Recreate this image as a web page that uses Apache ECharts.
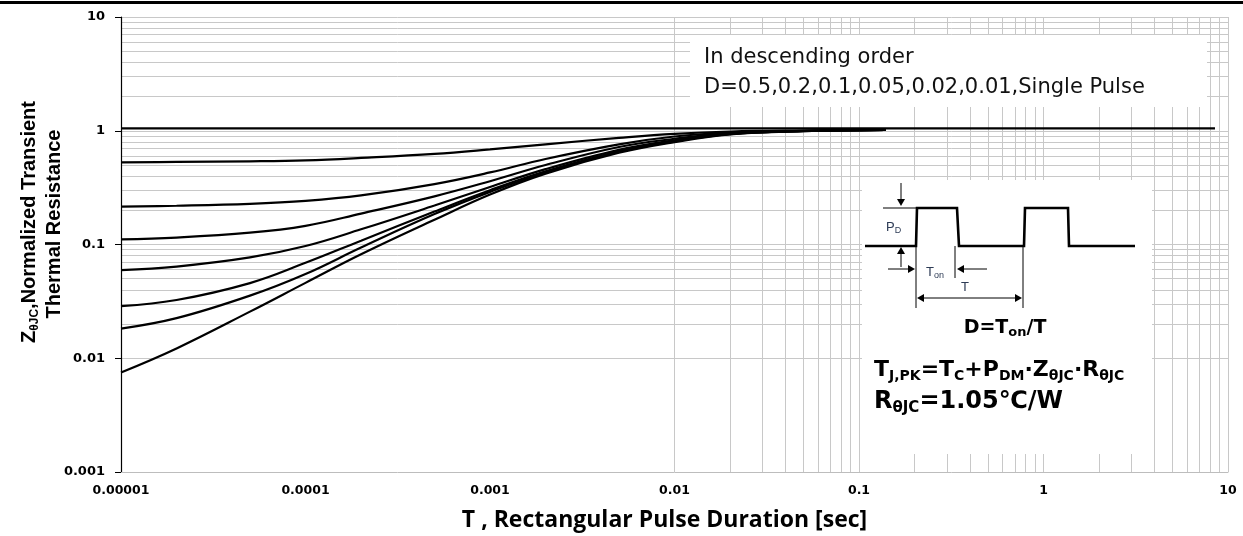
<!DOCTYPE html>
<html><head><meta charset="utf-8">
<script src="https://cdn.jsdelivr.net/npm/echarts@6/dist/echarts.min.js"></script>
<style>html,body{margin:0;padding:0;background:#fff;overflow:hidden}#c{width:1243px;height:536px}</style>
</head><body><div id="c"></div>
<script>
// ---- data ----
const durations = [1e-5, 2e-5, 5e-5, 1e-4, 2e-4, 5e-4, 1e-3, 2e-3, 5e-3, 1e-2, 2e-2, 5e-2, 0.14];
const zD050 = [0.528, 0.532, 0.539, 0.550, 0.577, 0.625, 0.685, 0.760, 0.865, 0.940, 0.985, 1.005, 1.015];
const zD020 = [0.215, 0.219, 0.228, 0.242, 0.270, 0.340, 0.430, 0.565, 0.760, 0.890, 0.965, 1.000, 1.015];
const zD010 = [0.111, 0.115, 0.127, 0.146, 0.187, 0.265, 0.360, 0.500, 0.720, 0.850, 0.955, 1.000, 1.015];
const zD005 = [0.0596, 0.064, 0.077, 0.097, 0.136, 0.220, 0.320, 0.460, 0.680, 0.825, 0.943, 0.995, 1.015];
const zD002 = [0.0287, 0.0325, 0.0458, 0.069, 0.108, 0.195, 0.300, 0.440, 0.660, 0.815, 0.938, 0.995, 1.015];
const zD001 = [0.0182, 0.0225, 0.0355, 0.055, 0.094, 0.185, 0.290, 0.430, 0.650, 0.805, 0.932, 0.993, 1.015];
const zSingle = [0.0075, 0.0122, 0.0257, 0.046, 0.082, 0.165, 0.275, 0.420, 0.640, 0.795, 0.928, 0.990, 1.015];
const flatT = [1e-5, 8.5];
const flatZ = [1.05, 1.05];
const xTickLabels = ['0.00001', '0.0001', '0.001', '0.01', '0.1', '1', '10'];
const yTickLabels = ['0.001', '0.01', '0.1', '1', '10'];
const xDecades = [-5, -4, -3, -2, -1, 0, 1];
const yDecades = [-3, -2, -1, 0, 1];
const gridMultipliers = [1, 2, 3, 4, 5, 6, 7, 8, 9];

// ---- build ----
function gridValues(decades) {
  const out = [];
  decades.forEach((d, i) => {
    if (i === decades.length - 1) { out.push(Math.pow(10, d)); return; }
    gridMultipliers.forEach(m => out.push(m * Math.pow(10, d)));
  });
  return out;
}
const gridLines = gridValues(xDecades).map(v => ({ xAxis: v }))
  .concat(gridValues(yDecades).map(v => ({ yAxis: v })));

function pairs(xs, ys) { return xs.map((x, i) => [x, ys[i]]); }
const curveSets = [zD050, zD020, zD010, zD005, zD002, zD001, zSingle];
const curveNames = ['D=0.5', 'D=0.2', 'D=0.1', 'D=0.05', 'D=0.02', 'D=0.01', 'Single Pulse'];

const series = curveSets.map((ys, i) => ({
  name: curveNames[i], type: 'line', data: pairs(durations, ys),
  showSymbol: false, smooth: 0.4, z: 3,
  lineStyle: { color: '#000', width: 2.2 }, silent: true, animation: false
}));
series.push({
  name: 'flat', type: 'line', data: pairs(flatT, flatZ), showSymbol: false, z: 3,
  lineStyle: { color: '#000', width: 2.3 }, silent: true, animation: false,
  markLine: {
    z: -1, silent: true, symbol: 'none', animation: false, label: { show: false },
    lineStyle: { color: '#c8c8c8', width: 1, type: 'solid' }, emphasis: { disabled: true },
    data: gridLines
  }
});

const tickFont = { fontFamily: 'DejaVu Sans', fontWeight: 'bold', color: '#000' };

// rich styles for main text + subscript
function subRich(family, weight, main, sub, color) {
  const L = Math.round(2 * (0.27 * main + sub / 2));
  return {
    m: { fontFamily: family, fontWeight: weight, fontSize: main, lineHeight: L, verticalAlign: 'middle', fill: color },
    s: { fontFamily: family, fontWeight: weight, fontSize: sub, lineHeight: sub, verticalAlign: 'bottom', fill: color }
  };
}

function arrowHead(x, y, dir) {
  const s = 4, l = 7;
  let pts;
  if (dir === 'down') pts = [[x, y], [x - s, y - l], [x + s, y - l]];
  if (dir === 'up') pts = [[x, y], [x - s, y + l], [x + s, y + l]];
  if (dir === 'right') pts = [[x, y], [x - l, y - s], [x - l, y + s]];
  if (dir === 'left') pts = [[x, y], [x + l, y - s], [x + l, y + s]];
  return { type: 'polygon', shape: { points: pts }, style: { fill: '#000' } };
}
function seg(x1, y1, x2, y2, w) {
  return { type: 'line', shape: { x1, y1, x2, y2 }, style: { stroke: '#000', lineWidth: w || 1 } };
}
const labelColor = '#2d3b55';

const diagram = {
  type: 'group', x: 862, y: 180, z: 5,
  children: [
    { type: 'rect', shape: { x: 0, y: 0, width: 290, height: 274 }, style: { fill: '#fff' } },
    { type: 'polyline', shape: { points: [[3, 66], [54, 66], [55, 28], [95, 28], [97, 66], [162, 66], [163, 28], [206, 28], [207, 66], [273, 66]] },
      style: { stroke: '#000', lineWidth: 2.6, fill: null } },
    seg(21, 28, 54, 28, 1.2),
    seg(39, 3, 39, 22, 1), arrowHead(39, 26, 'down'),
    seg(39, 87, 39, 72, 1), arrowHead(39, 67, 'up'),
    { type: 'text', x: 24, y: 47, style: { text: '{m|P}{s|D}', verticalAlign: 'middle',
      rich: subRich('Liberation Sans', 'normal', 13, 9, labelColor) } },
    seg(54, 66, 54, 128, 1),
    seg(26, 89, 48, 89, 1), arrowHead(53, 89, 'right'),
    { type: 'text', x: 64, y: 92, style: { text: '{m|T}{s|on}', verticalAlign: 'middle',
      rich: subRich('Liberation Sans', 'normal', 13, 9, labelColor) } },
    seg(93, 66, 93, 98, 1),
    seg(100, 89, 125, 89, 1), arrowHead(95, 89, 'left'),
    { type: 'text', x: 103, y: 107, style: { text: 'T', align: 'center', verticalAlign: 'middle',
      font: '13px "Liberation Sans"', fill: labelColor } },
    seg(161, 66, 161, 128, 1),
    seg(60, 118, 155, 118, 1), arrowHead(55, 118, 'left'), arrowHead(160, 118, 'right'),
    { type: 'text', x: 143, y: 148, style: { text: '{m|D=T}{s|on}{m|/T}', align: 'center', verticalAlign: 'middle',
      rich: subRich('DejaVu Sans', 'bold', 19, 13, '#000') } },
    { type: 'text', x: 12, y: 190, style: { text: '{m|T}{s|J,PK}{m|=T}{s|C}{m|+P}{s|DM}{m|·Z}{s|θJC}{m|·R}{s|θJC}', verticalAlign: 'middle',
      rich: subRich('DejaVu Sans', 'bold', 22, 14, '#000') } },
    { type: 'text', x: 12, y: 222, style: { text: '{m|R}{s|θJC}{m|=1.05℃/W}', verticalAlign: 'middle',
      rich: subRich('DejaVu Sans', 'bold', 24, 15, '#000') } }
  ]
};

const chart = echarts.init(document.getElementById('c'), null, { renderer: 'canvas' });
chart.setOption({
  animation: false,
  backgroundColor: '#fff',
  grid: { left: 121, right: 15, top: 17, bottom: 64, containLabel: false, outerBoundsMode: 'none' },
  xAxis: {
    type: 'log', logBase: 10, min: 1e-5, max: 10,
    axisLine: { show: true, lineStyle: { color: '#bdbdbd', width: 1 } },
    axisTick: { show: false }, splitLine: { show: false },
    axisLabel: Object.assign({ margin: 12, fontSize: 12.5, formatter: v => xTickLabels[xDecades.indexOf(Math.round(Math.log10(v)))] }, tickFont),
    name: 'T , Rectangular Pulse Duration [sec]', nameLocation: 'middle', nameGap: 37,
    nameTextStyle: { fontFamily: 'Open Sans', fontWeight: 'bold', fontSize: 23, color: '#000', padding: [0, 20, 0, 0] }
  },
  yAxis: {
    type: 'log', logBase: 10, min: 0.001, max: 10,
    axisLine: { show: true, lineStyle: { color: '#000', width: 1.2 } },
    axisTick: { show: true, length: 6, lineStyle: { color: '#000' } }, splitLine: { show: false },
    axisLabel: Object.assign({ margin: 16, fontSize: 13, formatter: v => yTickLabels[yDecades.indexOf(Math.round(Math.log10(v)))] }, tickFont)
  },
  series: series,
  graphic: { elements: [
    { type: 'rect', z: 5, shape: { x: 0, y: 1, width: 1243, height: 3 }, style: { fill: '#000' } },
    { type: 'text', z: 5, x: 29, y: 222, rotation: Math.PI / 2,
      style: { text: '{m|Z}{s|θJC}{m|,Normalized Transient}', align: 'center', verticalAlign: 'middle',
        rich: subRich('Liberation Sans', 'bold', 20, 12, '#000') } },
    { type: 'text', z: 5, x: 54, y: 224, rotation: Math.PI / 2,
      style: { text: 'Thermal Resistance', align: 'center', verticalAlign: 'middle',
        font: 'bold 20px "Liberation Sans"', fill: '#000' } },
    { type: 'rect', z: 5, shape: { x: 690, y: 35, width: 517, height: 72 }, style: { fill: '#fff' } },
    { type: 'text', z: 6, x: 704, y: 73,
      style: { text: 'In descending order\nD=0.5,0.2,0.1,0.05,0.02,0.01,Single Pulse', verticalAlign: 'middle',
        font: '21px "DejaVu Sans"', lineHeight: 30, fill: '#111' } },
    diagram
  ] }
});
</script></body></html>
